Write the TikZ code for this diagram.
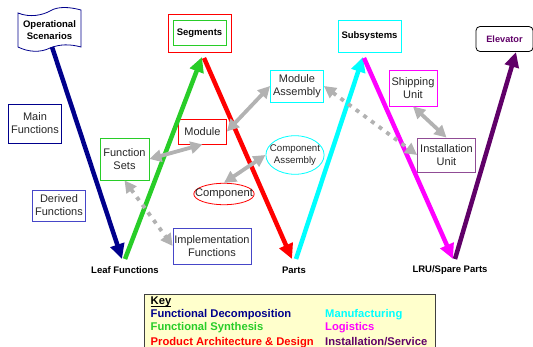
\documentclass[tikz,border=0pt]{standalone}
\usepackage{fontspec}
\setmainfont{Liberation Sans}
\usetikzlibrary{arrows.meta,shapes.geometric}
\definecolor{cnavy}{RGB}{0,0,140}
\definecolor{cblue}{RGB}{70,70,200}
\definecolor{cgreen}{RGB}{40,205,40}
\definecolor{cred}{RGB}{255,0,0}
\definecolor{ccyan}{RGB}{0,255,255}
\definecolor{cmag}{RGB}{255,0,255}
\definecolor{cpur}{RGB}{96,0,104}
\definecolor{cgrey}{RGB}{178,178,178}
\definecolor{ckey}{RGB}{255,255,204}
\tikzset{
  x=1pt,y=-1pt,
  lab/.style={font=\fontsize{11}{13}\selectfont,text=black!85,align=center,inner sep=0pt},
  blab/.style={font=\fontsize{9.5}{11.5}\selectfont\bfseries,text=black,align=center,inner sep=0pt},
  bx/.style={draw=#1,line width=0.8pt,rectangle,inner sep=0pt},
  main/.style={line width=4.5pt,draw=#1,-{Triangle[length=15pt,width=14pt,fill=#1]}},
  dbl/.style={draw=cgrey,line width=3.8pt,{Triangle[length=12pt,width=12pt]}-{Triangle[length=12pt,width=12pt]}},
  dotdbl/.style={dbl,dash pattern=on 4pt off 5.5pt},
  keyt/.style={font=\fontsize{11.2}{13}\selectfont\bfseries,inner sep=0pt,anchor=base west}
}
\begin{document}
\begin{tikzpicture}
\useasboundingbox (0,0) rectangle (533,347);
% wavy scroll
\draw[draw=cnavy,line width=0.8pt,fill=white] (18,13) .. controls (30,18) and (43,15) .. (50,11) .. controls (58,6) and (70,7) .. (81,10) -- (81,47) .. controls (70,44) and (60,44) .. (50,48) .. controls (40,53) and (28,52) .. (18,47) -- cycle;
\node[blab] (ops) at (49.5,30) {Operational\\Scenarios};
% boxes
\node[bx=cred,minimum width=63pt,minimum height=38pt] (segout) at (199.5,33) {};
\node[bx=cgreen,minimum width=53pt,minimum height=25pt,blab] (seg) at (199.5,33) {Segments};
\node[bx=cnavy,minimum width=53pt,minimum height=39pt,lab] (mainf) at (35,123.5) {Main\\Functions};
\node[bx=cgreen,minimum width=49pt,minimum height=42pt,lab] (fs) at (124.5,159) {Function\\Sets};
\node[bx=cred,minimum width=48pt,minimum height=25pt,lab] (mod) at (202.5,131.5) {Module};
\node[bx=ccyan,minimum width=53pt,minimum height=32pt,lab] (ma) at (297,86) {Module\\Assembly};
\node[bx=ccyan,minimum width=63pt,minimum height=32pt,blab] (sub) at (369.5,36) {Subsystems};
\node[bx=cmag,minimum width=48pt,minimum height=36pt,lab] (ship) at (413,88) {Shipping\\Unit};
\node[bx=cpur!70,minimum width=58pt,minimum height=34pt,lab] (inst) at (446.5,155) {Installation\\Unit};
\node[draw=black,line width=0.8pt,rounded corners=4pt,minimum width=57pt,minimum height=25pt,inner sep=0pt,font=\fontsize{9.2}{11}\selectfont\bfseries,text=cpur] (elev) at (504.5,39) {Elevator};
\node[bx=cblue,minimum width=53pt,minimum height=31pt,lab] (der) at (59,205.5) {Derived\\Functions};
\node[bx=cblue,minimum width=78pt,minimum height=36pt,lab] (impl) at (212,246) {Implementation\\Functions};
\node[ellipse,draw=ccyan,line width=0.8pt,inner xsep=-4.5pt,inner ysep=3.5pt,align=center,text=black!85,font=\fontsize{9.7}{11.5}\selectfont] (ca) at (295,155) {Component\\Assembly};
\node[ellipse,draw=cred,line width=0.8pt,inner xsep=-7.6pt,inner ysep=2.5pt,text=black!85,font=\fontsize{11.2}{13}\selectfont] (comp) at (224,194) {Component};
% labels
\node[blab] (leaf) at (125,270) {Leaf Functions};
\node[blab] (parts) at (294,270) {Parts};
\node[blab] (lru) at (450,270) {LRU/Spare Parts};
% free ends
\coordinate (a1) at (52,47);
\coordinate (a2) at (122,259);
\coordinate (b1) at (125,259);
\coordinate (b2) at (202,57);
\coordinate (c1) at (204,58);
\coordinate (c2) at (292,259);
\coordinate (d1) at (296,259);
\coordinate (d2) at (363,57);
\coordinate (e1) at (364,58);
\coordinate (e2) at (453,259);
\coordinate (f1) at (455,259);
\coordinate (f2) at (516,52);
% main arrows
\draw[main=cnavy] (a1) -- (a2);
\draw[main=cgreen] (b1) -- (b2);
\draw[main=cred] (c1) -- (c2);
\draw[main=ccyan] (d1) -- (d2);
\draw[main=cmag] (e1) -- (e2);
\draw[main=cpur] (f1) -- (f2);
% grey arrows
\draw[dbl] (fs.east) -- (mod.south);
\draw[dbl] (mod.east) -- (ma.west);
\draw[dbl] (comp.north) -- (ca.west);
\draw[dotdbl] (ma.east) -- (inst.west);
\draw[dotdbl] (fs.south) -- (impl.west);
\draw[dbl] (ship.south) -- (inst.north);
% key
\node[draw=black!75,line width=0.9pt,fill=ckey,minimum width=291pt,minimum height=53pt,inner sep=0pt] (key) at (289.5,320.5) {};
\node[keyt,text=black] (k0) at (150.5,304.5) {\underline{\smash{Key}}};
\node[keyt,text=cnavy] (k1) at (150.5,318) {Functional Decomposition};
\node[keyt,text=cgreen] (k2) at (150.5,331) {Functional Synthesis};
\node[keyt,text=cred] (k3) at (150.5,345) {Product Architecture \& Design};
\node[keyt,text=ccyan] (k4) at (325,318) {Manufacturing};
\node[keyt,text=cmag] (k5) at (325,331) {Logistics};
\node[keyt,text=cpur] (k6) at (325,345) {Installation/Service};
\end{tikzpicture}
\end{document}
